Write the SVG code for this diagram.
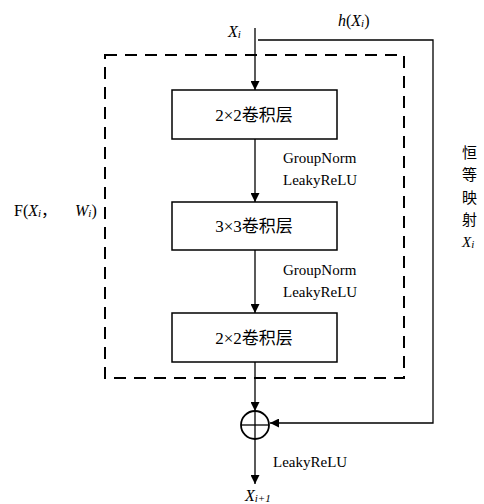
<svg xmlns="http://www.w3.org/2000/svg" width="484" height="504" viewBox="0 0 484 504" font-family="'Liberation Serif', 'Times New Roman', 'DejaVu Serif', 'Noto Sans CJK SC', serif">
<defs>
<marker id="ah" viewBox="0 0 10 10" refX="10" refY="5" markerWidth="9" markerHeight="9" markerUnits="userSpaceOnUse" orient="auto"><path d="M0,0 L10,5 L0,10 Z" fill="#000"/></marker>
<style>
text{font-family:'Liberation Serif','Times New Roman','DejaVu Serif','Noto Sans CJK SC',serif;font-size:15px;fill:#000}
.it{font-style:italic}
.bt{font-size:17px}
.lg{font-size:16px}
.box{fill:#fff;stroke:#000;stroke-width:1.5}
.ln{fill:none;stroke:#000;stroke-width:1.3}
.sub{font-size:11px}
</style>
</defs>
<rect width="484" height="504" fill="#fff"/>
<g id="dashed-box">
<rect x="105" y="55" width="299" height="323" fill="none" stroke="#000" stroke-width="2" stroke-dasharray="12,8"/>
</g>
<g id="connectors">
<line class="ln" x1="255" y1="28" x2="255" y2="90" marker-end="url(#ah)"/>
<line class="ln" x1="255" y1="139" x2="255" y2="202" marker-end="url(#ah)"/>
<line class="ln" x1="255" y1="250" x2="255" y2="313" marker-end="url(#ah)"/>
<line class="ln" x1="255" y1="362" x2="255" y2="411" marker-end="url(#ah)"/>
<line class="ln" x1="255" y1="439" x2="255" y2="484" marker-end="url(#ah)"/>
<polyline class="ln" points="258,40 433,40 433,423 270,423" marker-end="url(#ah)"/>
</g>
<g id="box1"><rect class="box" x="172" y="90" width="165" height="49"/><text class="bt" x="254" y="121" text-anchor="middle">2×2卷积层</text></g>
<g id="box2"><rect class="box" x="172" y="202" width="165" height="48"/><text class="bt" x="254" y="232" text-anchor="middle">3×3卷积层</text></g>
<g id="box3"><rect class="box" x="172" y="313" width="165" height="49"/><text class="bt" x="254" y="344" text-anchor="middle">2×2卷积层</text></g>
<g id="sum"><circle cx="255" cy="425" r="14" fill="#fff" stroke="#000" stroke-width="1.8"/><line class="ln" x1="241" y1="425" x2="269" y2="425" stroke-width="1.8"/><line class="ln" x1="255" y1="411" x2="255" y2="439" stroke-width="1.8"/></g>
<g id="labels">
<text x="228" y="37" class="it lg">X<tspan class="sub" dy="1">i</tspan></text>
<text x="338" y="26" class="lg"><tspan class="it">h</tspan>(<tspan class="it">X<tspan class="sub" dy="1">i</tspan></tspan><tspan dy="-1">)</tspan></text>
<text x="283" y="163">GroupNorm</text>
<text x="283" y="185">LeakyReLU</text>
<text x="283" y="275">GroupNorm</text>
<text x="283" y="297">LeakyReLU</text>
<text x="273" y="467">LeakyReLU</text>
<text x="245" y="501" class="it lg">X<tspan class="sub" dy="1">i+1</tspan></text>
<text x="14" y="216" class="lg">F(<tspan class="it">X<tspan class="sub" dy="1">i</tspan></tspan><tspan dy="-1">，</tspan></text>
<text x="75" y="216" class="lg"><tspan class="it">W<tspan class="sub" dy="1">i</tspan></tspan><tspan dy="-1">)</tspan></text>
<text x="462" y="158">恒</text>
<text x="462" y="180">等</text>
<text x="462" y="203">映</text>
<text x="462" y="225">射</text>
<text x="462" y="247" class="it">X<tspan class="sub" dy="1">i</tspan></text>
</g>
</svg>
